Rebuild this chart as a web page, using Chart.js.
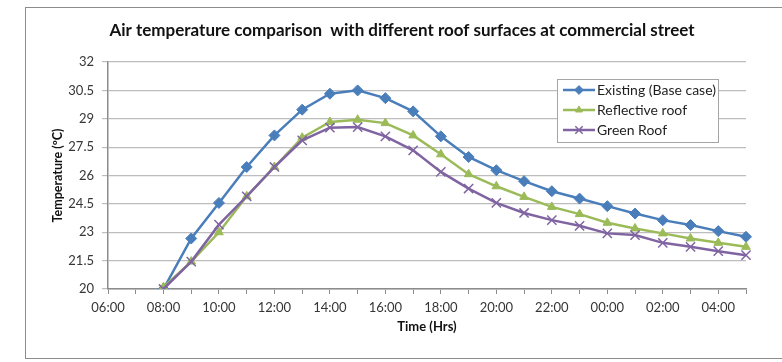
<!DOCTYPE html>
<html>
<head>
<meta charset="utf-8">
<script src="https://cdn.jsdelivr.net/npm/chart.js@4/dist/chart.umd.min.js"></script>
<style>
  html, body { margin: 0; padding: 0; background: #fff; overflow: hidden; }
  #wrap { position: relative; width: 782px; height: 362px; }
  #frame { position: absolute; left: 25px; top: 7px; width: 780px; height: 352px;
           border: 1px solid #8c8c8c; border-right: none; box-sizing: border-box; }
  canvas { position: absolute; left: 0; top: 0; }
</style>
</head>
<body>
<div id="wrap">
  <div id="frame"></div>
  <canvas id="chart" width="782" height="362"></canvas>
</div>
<script>
// Hourly time axis, 06:00 through 05:00 of the next day
const hours = ['06:00','07:00','08:00','09:00','10:00','11:00','12:00','13:00','14:00','15:00',
  '16:00','17:00','18:00','19:00','20:00','21:00','22:00','23:00','00:00','01:00','02:00',
  '03:00','04:00','05:00'];

// Air temperature (°C) per hour; the simulation starts at 08:00
const existingBase = [null, null, 20.0, 22.67, 24.55, 26.45, 28.12, 29.48, 30.32, 30.5, 30.09, 29.39,
  28.07, 26.98, 26.28, 25.70, 25.17, 24.78, 24.38, 23.99, 23.64, 23.38, 23.06, 22.76];
const reflectiveRoof = [null, null, 20.1, 21.45, 23.0, 24.9, 26.45, 28.0, 28.83, 28.95, 28.77, 28.12,
  27.12, 26.07, 25.43, 24.87, 24.34, 23.96, 23.5, 23.2, 22.94, 22.67, 22.44, 22.23];
const greenRoof = [null, null, 20.0, 21.45, 23.4, 24.9, 26.45, 27.86, 28.53, 28.56, 28.07, 27.33,
  26.19, 25.31, 24.55, 24.02, 23.64, 23.34, 22.94, 22.85, 22.44, 22.23, 22.0, 21.79];

const seriesNames = ['Existing (Base case)', 'Reflective roof', 'Green Roof'];
const yMin = 20, yMax = 32, yStep = 1.5;

const FONT = 'Lato, Carlito, "Liberation Sans", sans-serif';
const TEXT = '#363636';

// Boxed legend sitting inside the plot, top right
const boxLegend = {
  id: 'boxLegend',
  afterDraw(chart) {
    const { ctx, chartArea } = chart;
    const x = chartArea.right - 189, y = chartArea.top + 17, w = 161, h = 63;
    ctx.save();
    ctx.fillStyle = '#ffffff';
    ctx.fillRect(x, y, w, h);
    ctx.strokeStyle = '#a6a6a6';
    ctx.lineWidth = 1;
    ctx.strokeRect(x + 0.5, y + 0.5, w, h);
    chart.data.datasets.forEach((ds, i) => {
      const cy = y + 11 + i * 20;
      ctx.strokeStyle = ds.borderColor;
      ctx.lineWidth = 2.5;
      ctx.beginPath();
      ctx.moveTo(x + 6, cy);
      ctx.lineTo(x + 38, cy);
      ctx.stroke();
      ctx.fillStyle = ds.pointBackgroundColor;
      ctx.strokeStyle = ds.pointBorderColor;
      ctx.lineWidth = ds.pointBorderWidth;
      Chart.helpers.drawPoint(ctx, {
        pointStyle: ds.pointStyle, radius: ds.pointRadius * 0.8,
        borderWidth: ds.pointBorderWidth, rotation: 0
      }, x + 22, cy);
      ctx.fillStyle = '#1e1e1e';
      ctx.font = '14px ' + FONT;
      ctx.textBaseline = 'middle';
      ctx.textAlign = 'left';
      ctx.fillText(ds.label, x + 40, cy + 0.5);
    });
    ctx.restore();
  }
};

new Chart(document.getElementById('chart'), {
  type: 'line',
  data: {
    labels: hours,
    datasets: [
      {
        label: seriesNames[0], data: existingBase, order: 2,
        borderColor: '#4a7ebb', backgroundColor: '#4a7ebb',
        pointBackgroundColor: '#4a7ebb', pointBorderColor: '#4a7ebb',
        pointStyle: 'rectRot', pointRadius: 5.5, pointBorderWidth: 1,
        borderWidth: 2.5, tension: 0
      },
      {
        label: seriesNames[1], data: reflectiveRoof, order: 1,
        borderColor: '#9bbb59', backgroundColor: '#9bbb59',
        pointBackgroundColor: '#9bbb59', pointBorderColor: '#9bbb59',
        pointStyle: 'triangle', pointRadius: 5, pointBorderWidth: 1,
        borderWidth: 2.5, tension: 0
      },
      {
        label: seriesNames[2], data: greenRoof, order: 0,
        borderColor: '#8064a2', backgroundColor: '#8064a2',
        pointBackgroundColor: '#8064a2', pointBorderColor: '#8064a2',
        pointStyle: 'crossRot', pointRadius: 6.5, pointBorderWidth: 1.5,
        borderWidth: 2.5, tension: 0
      }
    ]
  },
  options: {
    responsive: false,
    animation: false,
    events: [],
    layout: { padding: { left: 22, right: 0, top: 0, bottom: 0 } },
    plugins: {
      legend: { display: false },
      tooltip: { enabled: false },
      title: {
        display: true,
        text: 'Air temperature comparison  with different roof surfaces at commercial street',
        color: '#111',
        font: { family: FONT, size: 17, weight: 'bold', lineHeight: 1.2 },
        padding: { top: 20, bottom: 21.6 }
      }
    },
    scales: {
      x: {
        type: 'category',
        offset: false,
        grid: { drawOnChartArea: false, drawTicks: true, tickLength: 5, color: '#8c8c8c', lineWidth: 1 },
        border: { color: '#8c8c8c', width: 1.5 },
        ticks: {
          autoSkip: false, maxRotation: 0, minRotation: 0, padding: 6,
          color: TEXT, font: { family: FONT, size: 13 },
          callback: (v, i) => (i % 2 === 0 ? hours[i] : '')
        },
        title: {
          display: true, text: 'Time (Hrs)', color: '#111',
          font: { family: FONT, size: 13, weight: 'bold', lineHeight: 1.2 },
          padding: { top: 0, bottom: 27 }
        },
        afterFit(scale) { scale.height = 73; }
      },
      y: {
        min: yMin, max: yMax,
        grid: { color: '#bdbdbd', lineWidth: 1.2, drawTicks: true, tickLength: 6 },
        border: { color: '#8c8c8c', width: 1.5 },
        ticks: {
          stepSize: yStep, padding: 8,
          color: TEXT, font: { family: FONT, size: 13 },
          callback: v => String(v)
        },
        title: {
          display: true, text: 'Temperature (ºC)', color: '#111',
          font: { family: FONT, size: 12.5, weight: 'bold', lineHeight: 1.2 },
          padding: { top: 28, bottom: 0 }
        },
        afterFit(scale) { scale.width = 86; }
      },
      // empty right-hand margin column
      yRight: {
        position: 'right',
        min: yMin, max: yMax,
        grid: { display: false },
        border: { display: false },
        ticks: { display: false },
        afterFit(scale) { scale.width = 36; }
      }
    }
  },
  plugins: [boxLegend]
});
</script>
</body>
</html>
